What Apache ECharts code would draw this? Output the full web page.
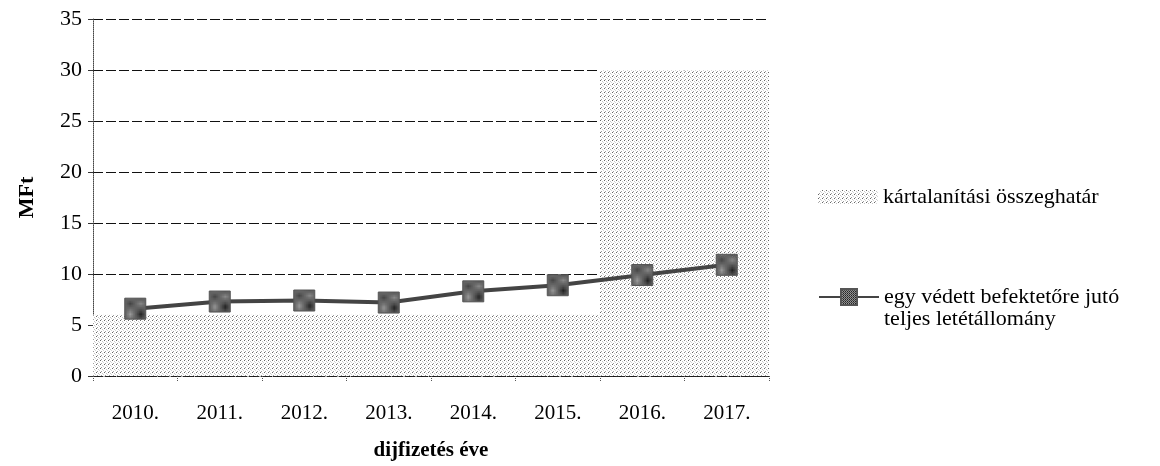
<!DOCTYPE html>
<html>
<head>
<meta charset="utf-8">
<script src="https://cdn.jsdelivr.net/npm/echarts@6/dist/echarts.min.js"></script>
<style>
  html, body { margin: 0; padding: 0; background: #fff; }
  #chart { width: 1160px; height: 466px; }
</style>
</head>
<body>
<div id="chart"></div>
<script>
// adatok
var years = ['2010.', '2011.', '2012.', '2013.', '2014.', '2015.', '2016.', '2017.'];
var limitValues = [6, 6, 6, 6, 6, 6, 30, 30];          // kártalanítási összeghatár
var depositValues = [6.6, 7.3, 7.4, 7.2, 8.3, 8.9, 9.9, 10.9]; // egy védett befektetőre jutó letét
var yTicks = [0, 35, 5]; // min, max, interval

var limitName = 'kártalanítási összeghatár';
var depositName = 'egy védett befektetőre jutó\nteljes letétállomány';

// pöttyözött minta a kitöltéshez
function makePattern(size, dots, bg) {
  var c = document.createElement('canvas');
  c.width = size; c.height = size;
  var ctx = c.getContext('2d');
  ctx.fillStyle = bg;
  ctx.fillRect(0, 0, size, size);
  dots.forEach(function (d) {
    ctx.fillStyle = d[2];
    ctx.fillRect(d[0], d[1], 1, 1);
  });
  return c;
}
var hatch = makePattern(4, [[0, 0, '#666'], [2, 1, '#c4c4c4'], [1, 3, '#a0a0a0'], [3, 2, '#d4d4d4']], '#fff');
var markerFill = makePattern(2, [[0, 0, '#222'], [1, 1, '#444'], [1, 0, '#999'], [0, 1, '#888']], '#888');

var serif = '"Liberation Serif", "Times New Roman", serif';

var chart = echarts.init(document.getElementById('chart'));
chart.setOption({
  animation: false,
  textStyle: { fontFamily: serif, color: '#000' },
  grid: { left: 93, right: 391, top: 19, bottom: 88 },
  legend: [
    {
      data: [limitName],
      orient: 'vertical',
      left: 813,
      top: 181,
      itemWidth: 60,
      itemHeight: 14,
      itemGap: 0,
      textStyle: { fontFamily: serif, fontSize: 22, color: '#000' }
    },
    {
      data: [depositName],
      orient: 'vertical',
      left: 813,
      top: 259,
      itemWidth: 60,
      itemHeight: 20,
      itemGap: 0,
      formatter: function (name) { return '\n' + name; },
      textStyle: { fontFamily: serif, fontSize: 22, color: '#000', lineHeight: 22 }
    }
  ],
  xAxis: {
    type: 'category',
    data: years,
    boundaryGap: true,
    name: 'dijfizetés éve',
    nameLocation: 'middle',
    nameGap: 64,
    nameTextStyle: { fontFamily: serif, fontSize: 21, fontWeight: 'bold', color: '#000' },
    axisLine: { lineStyle: { color: '#222', type: 'dashed', width: 1 } },
    axisTick: { show: true, length: 6, interval: 0, lineStyle: { color: '#555', type: 'dotted' } },
    axisLabel: { fontFamily: serif, fontSize: 21, color: '#000', margin: 27 }
  },
  yAxis: {
    type: 'value',
    min: yTicks[0],
    max: yTicks[1],
    interval: yTicks[2],
    name: 'MFt',
    nameLocation: 'middle',
    nameRotate: 90,
    nameGap: 55,
    nameTextStyle: { fontFamily: serif, fontSize: 22, fontWeight: 'bold', color: '#000' },
    axisLine: { show: true, lineStyle: { color: '#444', type: 'dotted', width: 1 } },
    axisTick: { show: true, length: 5, lineStyle: { color: '#333' } },
    axisLabel: { fontFamily: serif, fontSize: 22, color: '#000', margin: 11 },
    splitLine: { show: true, lineStyle: { color: '#111', type: [10, 3], width: 1 } }
  },
  series: [
    {
      name: limitName,
      type: 'bar',
      data: limitValues,
      barCategoryGap: '0%',
      itemStyle: { color: { image: hatch, repetition: 'repeat' } },
      z: 1
    },
    {
      name: depositName,
      type: 'line',
      data: depositValues,
      symbol: 'rect',
      symbolSize: 21,
      lineStyle: { color: '#444', width: 4 },
      itemStyle: { color: { image: markerFill, repetition: 'repeat' }, borderColor: '#555', borderWidth: 1 },
      z: 3
    }
  ]
});
</script>
</body>
</html>
